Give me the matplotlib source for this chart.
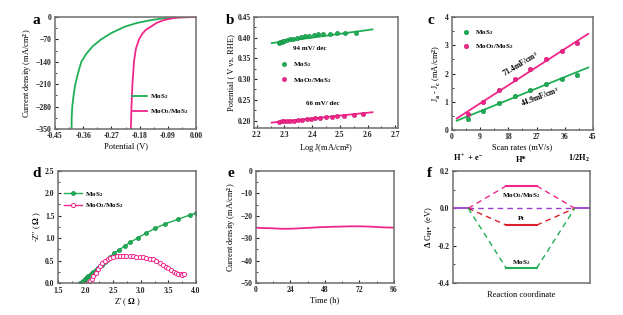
"""Six-panel HER figure (LSV, Tafel, Cdl, EIS, stability, free energy)."""

import matplotlib

matplotlib.use("Agg")
import matplotlib.pyplot as plt
import numpy as np
from matplotlib.ticker import AutoMinorLocator

plt.rcParams["font.family"] = ["Liberation Serif", "DejaVu Serif"]
plt.rcParams["font.weight"] = "bold"
plt.rcParams["mathtext.fontset"] = "custom"
plt.rcParams["mathtext.rm"] = "Liberation Serif:bold"
plt.rcParams["mathtext.it"] = "Liberation Serif:bold"
plt.rcParams["mathtext.default"] = "rm"

GREEN = "#1fae55"
PINK = "#f0268a"
RED = "#d8202c"
PURPLE = "#9a3fd0"
SPINE = "#6e6e6e"

LBL_MOS2 = "MoS$_2$"
LBL_HYB = "MoO$_3$/MoS$_2$"

# (a) polarization curves
lsv_mos2_v = [-0.397, -0.397, -0.395, -0.390, -0.385, -0.375, -0.366, -0.350, -0.330,
              -0.303, -0.270, -0.229, -0.190, -0.145, -0.110, -0.080, -0.050, -0.020, 0.0]
lsv_mos2_j = [-350, -320, -280, -240, -210, -170, -140, -115, -92,
              -70, -50, -31, -19, -10, -5, -2.5, -1, -0.3, 0]
lsv_hyb_v = [-0.208, -0.207, -0.206, -0.204, -0.203, -0.200, -0.198, -0.192, -0.182,
             -0.171, -0.160, -0.145, -0.125, -0.103, -0.080, -0.061, -0.040, -0.020, 0.0]
lsv_hyb_j = [-350, -320, -280, -240, -210, -170, -140, -100, -70,
             -52, -40, -31, -18, -10, -5, -2, -1, -0.5, -0.2]

# (b) Tafel plots
tafel_mos2_x = [2.280, 2.285, 2.290, 2.295, 2.300, 2.310, 2.320, 2.330, 2.345, 2.360,
                2.375, 2.390, 2.405, 2.420, 2.440, 2.464, 2.490, 2.520, 2.557]
tafel_mos2_y = [0.387, 0.389, 0.390, 0.391, 0.392, 0.394, 0.396, 0.398, 0.400, 0.402,
                0.404, 0.405, 0.407, 0.408, 0.409, 0.410, 0.411, 0.411, 0.412]
tafel_hyb_x = [2.280, 2.290, 2.300, 2.310, 2.320, 2.335, 2.350, 2.365, 2.380, 2.395,
               2.410, 2.430, 2.450, 2.470, 2.490, 2.515, 2.550, 2.585]
tafel_hyb_y = [0.197, 0.198, 0.198, 0.199, 0.200, 0.200, 0.201, 0.202, 0.203, 0.204,
               0.205, 0.207, 0.208, 0.209, 0.210, 0.212, 0.214, 0.216]
tafel_fit_x = [2.254, 2.618]
tafel_fit_mos2 = [0.387, 0.420]
tafel_fit_hyb = [0.195, 0.220]

# (c) double-layer capacitance
scan_rates = [5, 10, 15, 20, 25, 30, 35, 40]
cdl_mos2 = [0.38, 0.68, 0.95, 1.20, 1.42, 1.62, 1.80, 1.95]
cdl_hyb = [0.55, 1.00, 1.42, 1.82, 2.17, 2.50, 2.80, 3.07]
cdl_fit_x = [1.5, 43.5]
cdl_slope = {"mos2": 0.0449, "hyb": 0.0714}
cdl_icpt = {"mos2": 0.26, "hyb": 0.30}

# (d) Nyquist plots
eis_mos2_re = [1.90, 1.93, 1.96, 1.99, 2.02, 2.05, 2.08, 2.11, 2.14, 2.17, 2.20, 2.23,
               2.26, 2.29, 2.32, 2.35, 2.385, 2.445, 2.52, 2.61, 2.71, 2.81, 2.95,
               3.09, 3.26, 3.445, 3.676, 3.90, 4.00]
eis_mos2_im = [0.00, 0.03, 0.06, 0.10, 0.13, 0.16, 0.19, 0.22, 0.25, 0.28, 0.32, 0.35,
               0.38, 0.41, 0.44, 0.48, 0.52, 0.59, 0.67, 0.74, 0.83, 0.91, 1.01,
               1.11, 1.22, 1.32, 1.42, 1.52, 1.55]
eis_hyb_re = [2.05, 2.08, 2.11, 2.14, 2.18, 2.22, 2.26, 2.30, 2.35, 2.40, 2.45, 2.50,
              2.56, 2.62, 2.68, 2.74, 2.80, 2.86, 2.92, 2.98, 3.04, 3.10, 3.16, 3.22,
              3.28, 3.34, 3.40, 3.45, 3.50, 3.55, 3.60, 3.64, 3.68, 3.72, 3.75, 3.78]
eis_hyb_im = [0.00, 0.05, 0.10, 0.16, 0.23, 0.31, 0.38, 0.44, 0.50, 0.54, 0.57, 0.59,
              0.60, 0.60, 0.60, 0.60, 0.60, 0.60, 0.59, 0.59, 0.58, 0.57, 0.55, 0.53,
              0.50, 0.46, 0.41, 0.37, 0.33, 0.29, 0.26, 0.23, 0.21, 0.20, 0.19, 0.20]

# (e) chronoamperometry
stab_t = [0, 6, 12, 18, 24, 30, 36, 42, 48, 54, 60, 66, 72, 78, 84, 90, 96]
stab_j = [-25.3, -25.5, -25.6, -25.8, -25.8, -25.6, -25.4, -25.2, -25.0, -24.9,
          -24.8, -24.7, -24.7, -24.8, -25.0, -25.2, -25.3]

# (f) free-energy diagram
dg_names = [LBL_HYB, "Pt", LBL_MOS2]
dg_values = [0.12, -0.09, -0.32]
dg_colors = [PINK, RED, GREEN]
dg_label_y = [0.068, -0.053, -0.29]
stage_x = [0, 1, 3.5, 5.5, 8, 9]
stage_labels = ["H$^+$ + e$^-$", "H*", "1/2H$_2$"]


def style(ax):
    for sp in ax.spines.values():
        sp.set_color(SPINE)
        sp.set_linewidth(1.1)
    ax.tick_params(direction="in", length=2.5, width=0.8, labelsize=5.5, pad=2.5,
                   colors="#222222")
    ax.tick_params(which="minor", direction="in", length=1.5, width=0.6, color="#222222")
    ax.xaxis.set_minor_locator(AutoMinorLocator(2))
    ax.yaxis.set_minor_locator(AutoMinorLocator(2))
    for t in ax.get_xticklabels() + ax.get_yticklabels():
        t.set_fontweight("bold")


def lbl(ax, x, y):
    ax.set_xlabel(x, fontsize=6, labelpad=1.5)
    ax.set_ylabel(y, fontsize=6, labelpad=1.5)


fig = plt.figure(figsize=(6.23, 3.15), dpi=100)

# ---- a
ax = fig.add_axes([0.0883, 0.5905, 0.2263, 0.3556])
ax.plot(lsv_mos2_v, lsv_mos2_j, color=GREEN, lw=1.3, label=LBL_MOS2)
ax.plot(lsv_hyb_v, lsv_hyb_j, color=PINK, lw=1.3, label=LBL_HYB)
ax.set_xlim(-0.45, 0.0)
ax.set_ylim(-350, 0)
ax.set_xticks([-0.45, -0.36, -0.27, -0.18, -0.09, 0.00])
ax.set_xticklabels(["-0.45", "-0.36", "-0.27", "-0.18", "-0.09", "0.00"])
ax.set_yticks([0, -70, -140, -210, -280, -350])
style(ax)
lbl(ax, "Potential (V)", "Current density (mA/cm$^2$)")
ax.legend(loc="center left", bbox_to_anchor=(0.52, 0.22), frameon=False, fontsize=5,
          handlelength=2.2, handletextpad=0.4, labelspacing=0.9, borderpad=0)

# ---- b
ax = fig.add_axes([0.4077, 0.5937, 0.2311, 0.3524])
ax.plot(tafel_fit_x, tafel_fit_mos2, color=GREEN, lw=1.3)
ax.plot(tafel_fit_x, tafel_fit_hyb, color=PINK, lw=1.3)
ax.plot(tafel_mos2_x, tafel_mos2_y, "o", color=GREEN, ms=3, mec="#128a40", mew=0.4,
        label=LBL_MOS2)
ax.plot(tafel_hyb_x, tafel_hyb_y, "o", color=PINK, ms=3, mec="#c8156c", mew=0.4,
        label=LBL_HYB)
ax.set_xlim(2.19, 2.71)
ax.set_ylim(0.182, 0.45)
ax.set_xticks([2.2, 2.3, 2.4, 2.5, 2.6, 2.7])
ax.set_yticks([0.20, 0.25, 0.30, 0.35, 0.40, 0.45])
style(ax)
lbl(ax, "Log J(mA/cm$^2$)", "Potential ( V vs. RHE)")
ax.text(2.39, 0.374, "94 mV/ dec", fontsize=5, ha="center", va="center")
ax.text(2.44, 0.241, "66 mV/ dec", fontsize=5, ha="center", va="center")
ax.legend(loc="center left", bbox_to_anchor=(0.16, 0.5), frameon=False, fontsize=5,
          handlelength=1.0, handletextpad=0.8, labelspacing=0.9, borderpad=0)

# ---- c
ax = fig.add_axes([0.7255, 0.5873, 0.2263, 0.3587])
fx = np.array(cdl_fit_x)
ax.plot(fx, cdl_icpt["hyb"] + cdl_slope["hyb"] * fx, color=PINK, lw=1.3)
ax.plot(fx, cdl_icpt["mos2"] + cdl_slope["mos2"] * fx, color=GREEN, lw=1.3)
ax.plot(scan_rates, cdl_mos2, "o", color=GREEN, ms=3.2, mec="#128a40", mew=0.4,
        label=LBL_MOS2)
ax.plot(scan_rates, cdl_hyb, "o", color=PINK, ms=3.2, mec="#c8156c", mew=0.4,
        label=LBL_HYB)
ax.set_xlim(0, 45)
ax.set_ylim(0, 4)
ax.set_xticks([0, 9, 18, 27, 36, 45])
ax.set_yticks([0, 1, 2, 3, 4])
style(ax)
lbl(ax, "Scan rates (mV/s)", "J$_a$ - J$_c$ (mA/cm$^2$)")
ax.text(21.8, 2.35, "71.4mF/cm$^2$", fontsize=5.5, ha="center", va="center", rotation=31)
ax.text(28.0, 1.17, "44.9mF/cm$^2$", fontsize=5.5, ha="center", va="center", rotation=21)
ax.legend(loc="upper left", bbox_to_anchor=(0.05, 0.93), frameon=False, fontsize=5,
          handlelength=1.0, handletextpad=0.8, labelspacing=0.7, borderpad=0)

# ---- d
ax = fig.add_axes([0.0931, 0.1006, 0.2215, 0.358])
ax.plot(eis_mos2_re, eis_mos2_im, "-o", color=GREEN, lw=1.0, ms=3, mec="#128a40",
        mew=0.4, label=LBL_MOS2)
ax.plot(eis_hyb_re, eis_hyb_im, "-o", color=PINK, lw=1.0, ms=3, mfc="white",
        mec=PINK, mew=0.7, label=LBL_HYB)
ax.set_xlim(1.5, 4.0)
ax.set_ylim(0, 2.5)
ax.set_xticks([1.5, 2.0, 2.5, 3.0, 3.5, 4.0])
ax.set_yticks([0.0, 0.5, 1.0, 1.5, 2.0, 2.5])
style(ax)
lbl(ax, "Z' ( $\\Omega$ )", "-Z'' ( $\\Omega$ )")
ax.legend(loc="upper left", bbox_to_anchor=(0.02, 0.86), frameon=False, fontsize=5,
          handlelength=2.6, handletextpad=0.4, labelspacing=0.4, borderpad=0)

# ---- e
ax = fig.add_axes([0.4109, 0.1016, 0.2215, 0.3556])
ax.plot(stab_t, stab_j, color=PINK, lw=1.3)
ax.set_xlim(0, 96)
ax.set_ylim(-50, 0)
ax.set_xticks([0, 24, 48, 72, 96])
ax.set_yticks([0, -10, -20, -30, -40, -50])
style(ax)
lbl(ax, "Time (h)", "Current density (mA/cm$^2$)")

# ---- f
ax = fig.add_axes([0.7271, 0.1016, 0.2199, 0.3556])
x0, x1, x2, x3, x4, x5 = stage_x
ax.plot([x0, x1], [0, 0], color=PURPLE, lw=1.3)
ax.plot([x4, x5], [0, 0], color=PURPLE, lw=1.3)
ax.plot([x1, x4], [0, 0], color=PURPLE, lw=1.0, ls=(0, (4, 3)))
for name, val, col, ly in zip(dg_names, dg_values, dg_colors, dg_label_y):
    ax.plot([x2, x3], [val, val], color=col, lw=1.5)
    ax.plot([x1, x2], [0, val], color=col, lw=1.0, ls=(0, (4, 3)))
    ax.plot([x3, x4], [val, 0], color=col, lw=1.0, ls=(0, (4, 3)))
    ax.text((x2 + x3) / 2, ly, name, fontsize=5, ha="center", va="center")
ax.set_xlim(x0, x5)
ax.set_ylim(-0.4, 0.2)
ax.set_xticks([])
ax.set_yticks([0.2, 0.0, -0.2, -0.4])
ax.set_yticklabels(["0.2", "0.0", "-0.2", "-0.4"])
style(ax)
ax.xaxis.set_minor_locator(plt.NullLocator())
ax.set_xlabel("Reaction coordinate", fontsize=6, labelpad=6)
ax.set_ylabel("$\\Delta$ G$_{H*}$ (eV)", fontsize=6, labelpad=1.5)
for xs, s in zip([x1, (x2 + x3) / 2, x4 + 0.3], stage_labels):
    ax.text(xs, 0.235, s, fontsize=6, ha="center", va="bottom")

# panel letters
for x, y, s in [(0.052, 0.955, "a"), (0.362, 0.955, "b"), (0.686, 0.955, "c"),
                (0.052, 0.47, "d"), (0.365, 0.47, "e"), (0.685, 0.47, "f")]:
    fig.text(x, y, s, fontsize=11, fontweight="bold", ha="left", va="top")

fig.savefig("out.png", dpi=100)
plt.close(fig)
